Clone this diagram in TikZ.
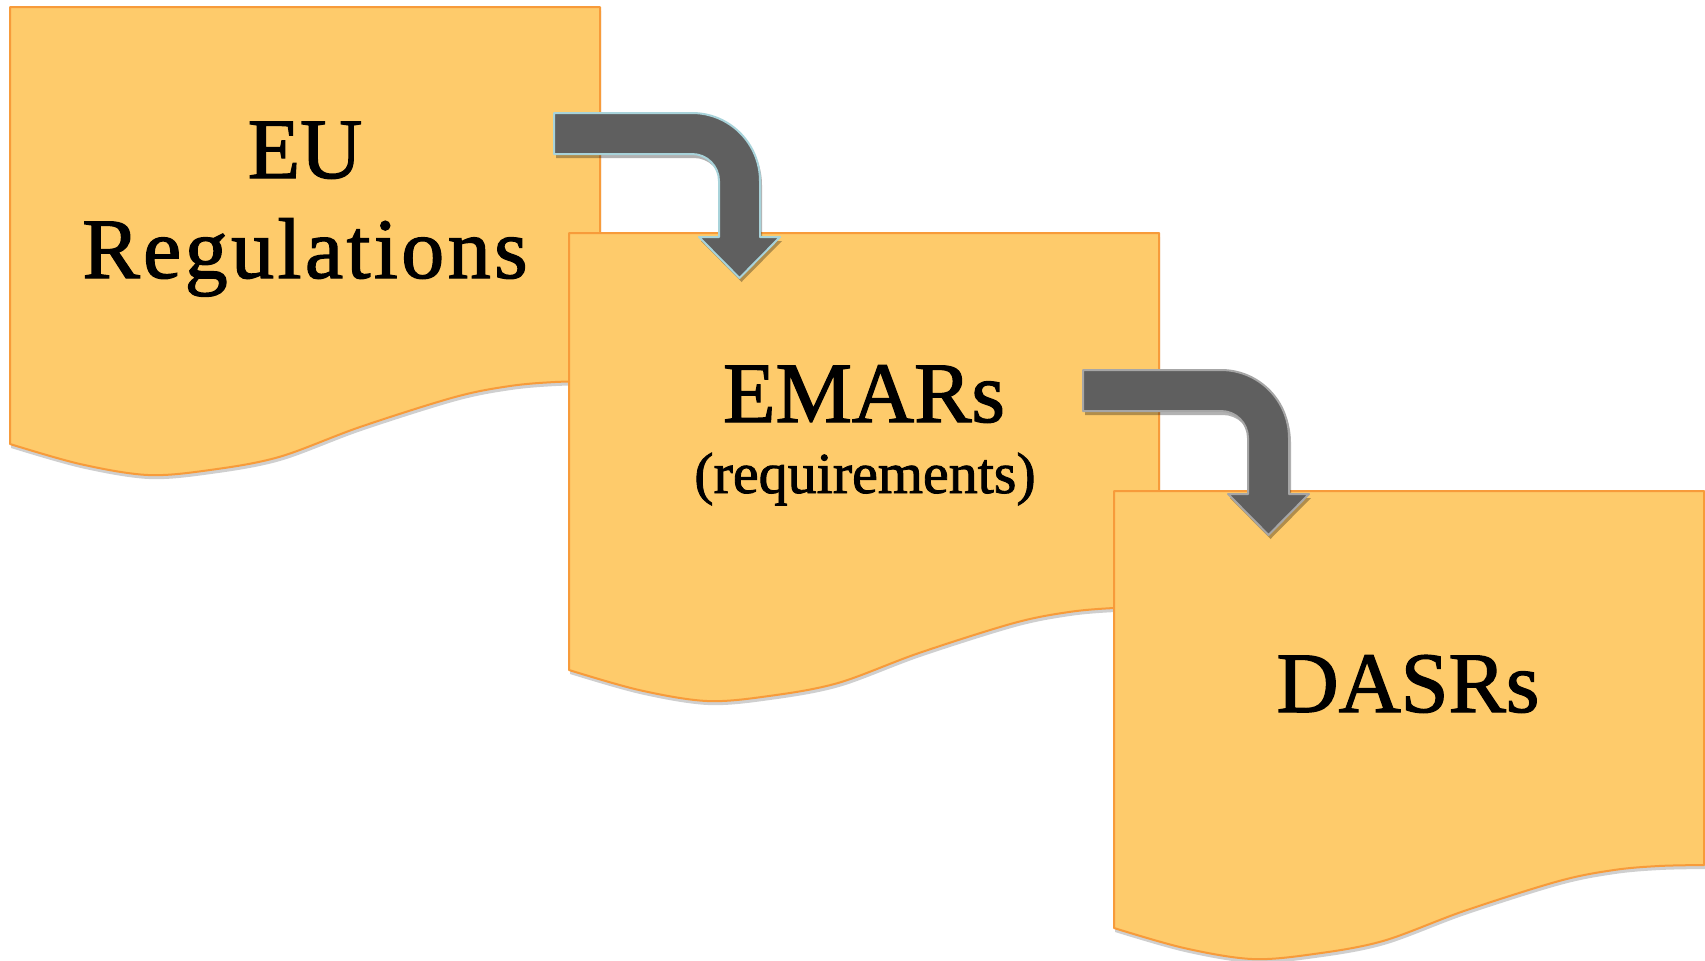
\documentclass[tikz,border=0pt]{standalone}
\usepackage{fontspec}
\usetikzlibrary{calc}
\newfontfamily\docfont{Liberation Serif}[FakeBold=1.5]
\definecolor{docfill}{HTML}{FECB6B}
\definecolor{docline}{HTML}{F79B3A}
\definecolor{arrowgray}{HTML}{5F5F5F}
\definecolor{arrowblue}{HTML}{A8D3DA}
\definecolor{arrowedge}{HTML}{A6A6A6}

\begin{document}
\begin{tikzpicture}[x=0.5pt,y=-0.5pt,
	docbox/.style={fill=docfill,draw=docline,line width=1pt,line join=round},
	docshadow/.style={fill=black!19},
	bentarrow/.style={fill=arrowgray,line width=1pt,line join=round},
	arrowshadow/.style={fill=black,opacity=0.3},
	bigtext/.style={font=\docfont\fontsize{43}{52}\selectfont,inner sep=0pt,anchor=base},
	smalltext/.style={font=\docfont\fontsize{29}{35}\selectfont,inner sep=0pt,anchor=base}]
	\useasboundingbox (0,0) rectangle (1705,960);
	\def\docoutline{(0,0) -- (590,0) -- plot[smooth,tension=0.55] coordinates {(590,374) (545,375) (500,379) (445,390) (350,420) (269,450) (200,463) (138,468) (70,457) (0,437)} -- cycle}
	\def\bendoutline{(0,0) -- (138,0) arc (-90:0:68) -- (206,124) -- (226,124) -- (185.5,165) -- (145,124) -- (165,124) -- (165,68) arc (0:-90:27) -- (0,41) -- cycle}
	% the three documents
	\foreach \bx/\by/\nm in {10/7/regs,569/233/emars,1114/491/dasrs}{
		\coordinate (\nm) at (\bx,\by);
		\fill[docshadow,shift={(\bx+1,\by+4)}] \docoutline;
		\draw[docbox,shift={(\bx,\by)}] \docoutline;
	}
	\node[bigtext] (eu) at ($(regs)+(295,171)$) {EU};
	\node[bigtext] (regulations) at ($(regs)+(295,271)$) {\addfontfeatures{LetterSpace=4}Regulations};
	\node[bigtext] (emartitle) at ($(emars)+(295,189)$) {EMARs};
	\node[smalltext] (emarnote) at ($(emars)+(296,260)$) {(requirements)};
	\node[bigtext] (dasrtitle) at ($(dasrs)+(294,221)$) {DASRs};
	% bent arrows
	\coordinate (bendA) at (554,113);
	\coordinate (bendB) at (1083,370);
	\fill[arrowshadow,shift={($(bendA)+(2,4)$)}] \bendoutline;
	\draw[bentarrow,draw=arrowblue,shift={(bendA)}] \bendoutline;
	\fill[arrowshadow,shift={($(bendB)+(2,4)$)}] \bendoutline;
	\draw[bentarrow,draw=arrowedge,shift={(bendB)}] \bendoutline;
\end{tikzpicture}
\end{document}
